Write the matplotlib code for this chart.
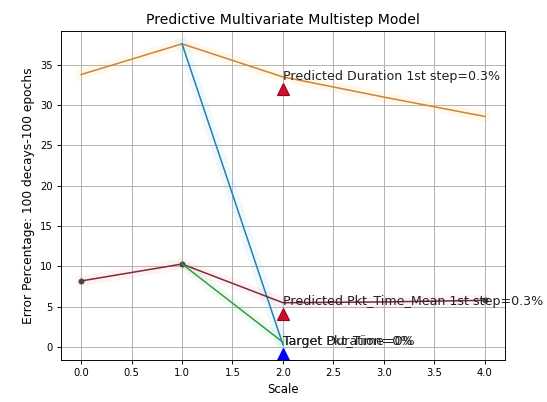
import matplotlib.pyplot as plt
import numpy as np

scale = [0, 1, 2, 3, 4]
duration = [33.8, 37.6, 33.5, 31.0, 28.6]
pkt_time = [8.2, 10.3, 5.5, 5.6, 5.8]

step_x = [1, 2]
duration_pred = [37.6, 0.3]
pkt_time_pred = [10.3, 0.6]

tri_x = [2, 2]
tri_pred = [32.0, 4.1]
target_x = 2
target_y = -0.9

fig = plt.figure(figsize=(547/85, 402/85), dpi=85)
ax = fig.add_axes([0.1115, 0.1045, 0.8115, 0.8185])

# soft halos under each line
ax.plot(scale, duration, color='#ffd27a', lw=9, alpha=0.15)
ax.plot(scale, pkt_time, color='#ff9aa8', lw=9, alpha=0.12)
ax.plot(step_x, duration_pred, color='#8fd8f0', lw=10, alpha=0.15)
ax.plot(step_x, pkt_time_pred, color='#9be39b', lw=9, alpha=0.15)

ax.plot(scale, duration, color='#c8873a', lw=1.3)
ax.plot(step_x, duration_pred, color='#2a7fa8', lw=1.3)
ax.plot(scale, pkt_time, color='#7a2f3a', lw=1.3, marker='o', ms=4,
        mfc='#444444', mec='#444444', markevery=[0, 1, 4])
ax.plot(step_x, pkt_time_pred, color='#3a9a4a', lw=1.3)

ax.plot(tri_x, tri_pred, 'r^', ms=10, mec='#a00020', color='#d0102a')
ax.plot(target_x, target_y, 'b^', ms=10)

fs = 10.7
ax.text(2, 33.6, 'Predicted Duration 1st step=0.3%', fontsize=fs, color='#222222', va='center')
ax.text(2, 5.6, 'Predicted Pkt_Time_Mean 1st step=0.3%', fontsize=fs, color='#222222', va='center')
ax.text(2, 0.7, 'Target Pkt_Time=0%', fontsize=fs, color='#222222', va='center')
ax.text(2, 0.7, 'Target Duration=0%', fontsize=fs, color='#222222', va='center')

ax.set_xlim(-0.2, 4.2)
ax.set_ylim(-1.6, 39.2)
ax.set_xticks(np.arange(0, 4.01, 0.5))
ax.set_yticks(np.arange(0, 36, 5))
ax.tick_params(labelsize=8.5)
ax.grid(True, color='#b0b0b0', lw=0.8)
ax.set_title('Predictive Multivariate Multistep Model', fontsize=11.9)
ax.set_xlabel('Scale', fontsize=10)
ax.set_ylabel('Error Percentage: 100 decays-100 epochs', fontsize=10.4)

fig.savefig('out.png', dpi=85)
